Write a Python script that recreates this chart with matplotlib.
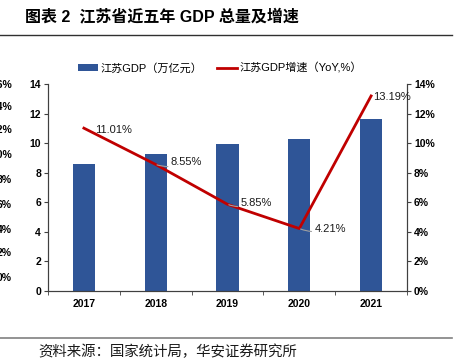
import matplotlib
matplotlib.use("Agg")
import matplotlib.pyplot as plt
from matplotlib.lines import Line2D
from matplotlib.patches import Patch
import numpy as np

plt.rcParams['font.family'] = ['Liberation Sans', 'Noto Sans CJK SC', 'DejaVu Sans']

years = ["2017", "2018", "2019", "2020", "2021"]
gdp = [8.59, 9.26, 9.96, 10.27, 11.64]
growth = [11.01, 8.55, 5.85, 4.21, 13.19]
growth_labels = ["11.01%", "8.55%", "5.85%", "4.21%", "13.19%"]
left_ticks = [0, 2, 4, 6, 8, 10, 12, 14]
right_ticks = [0, 2, 4, 6, 8, 10, 12, 14]
ghost_labels = ["16%", "14%", "12%", "10%", "8%", "6%", "4%", "2%", "0%"]

title = "图表 2  江苏省近五年 GDP 总量及增速"
source = "资料来源：国家统计局，华安证券研究所"
legend_bar = "江苏GDP（万亿元）"
legend_line = "江苏GDP增速（YoY,%）"

W, H = 456, 363
fig = plt.figure(figsize=(W / 100, H / 100), dpi=100)
PX = 0.72  # points per pixel

def fx(px):
    return px / W

def fy(py):
    return 1 - py / H

ax = fig.add_axes([fx(48), fy(290.7), fx(407) - fx(48), fy(84) - fy(290.7)])
x = np.arange(len(years))
bar_color = "#2F5597"
line_color = "#C00000"
ax.bar(x, gdp, width=0.31, color=bar_color, zorder=2)
ax.set_xlim(-0.5, len(years) - 0.5)
ax.set_ylim(0, 14)
ax.set_yticks(left_ticks)
ax.set_yticklabels([str(v) for v in left_ticks], fontsize=7.5, fontweight='bold')
ax.set_xticks(x)
ax.set_xticklabels(years, fontsize=7.5, fontweight='bold')
ax.tick_params(axis='x', length=0, pad=6)
ax.set_xticks(np.arange(-0.5, len(years), 1.0), minor=True)
ax.tick_params(axis='x', which='minor', length=3, direction='out', color='#404040')
ax.tick_params(axis='y', length=3, direction='out', color='#404040', pad=2)
ax.spines['top'].set_visible(False)
for s in ['left', 'right', 'bottom']:
    ax.spines[s].set_color('#404040')
    ax.spines[s].set_linewidth(0.8)

ax2 = ax.twinx()
ax2.plot(x, growth, color=line_color, linewidth=2.0, zorder=3)
ax2.set_ylim(0, 14)
ax2.set_yticks(right_ticks)
ax2.set_yticklabels([f"{v}%" for v in right_ticks], fontsize=7.5, fontweight='bold')
ax2.tick_params(axis='y', length=3, direction='out', color='#404040', pad=2)
ax2.spines['top'].set_visible(False)
for s in ['left', 'right', 'bottom']:
    ax2.spines[s].set_color('#404040')
    ax2.spines[s].set_linewidth(0.8)

# data labels (offsets in pixels)
offsets = [(11, -2, False), (15, 2, True), (13, 1, True), (15, 0, True), (1.5, -1, False)]
for i, (lab, (dx, dy, leader)) in enumerate(zip(growth_labels, offsets)):
    kw = dict(xy=(x[i], growth[i]), xytext=(dx * PX, dy * PX), textcoords='offset points',
              fontsize=8, ha='left', va='center', color='#1a1a1a')
    if leader:
        kw['arrowprops'] = dict(arrowstyle='-', color='#a0a0a0', lw=0.8,
                                connectionstyle='arc3,rad=-0.2', shrinkA=0, shrinkB=1)
    ax2.annotate(lab, **kw)

# legend
handles = [Patch(facecolor=bar_color, edgecolor='none'),
           Line2D([0], [0], color=line_color, linewidth=2.0)]
fig.legend(handles, [legend_bar, legend_line], loc='center',
           bbox_to_anchor=(fx(220), fy(68)), ncol=2, frameon=False,
           handlelength=1.8, handleheight=0.5, columnspacing=1.3,
           handletextpad=0.25,
           prop={'family': ['Liberation Sans', 'Noto Sans CJK SC'], 'size': 8, 'weight': 'normal'})

# title and rules
fig.text(fx(25), fy(16), title, fontsize=11.5, fontweight='bold', ha='left', va='center',
         family=['Liberation Sans', 'Noto Sans CJK SC'])
fig.add_artist(Line2D([0, fx(452)], [fy(35), fy(35)], color='#303030', linewidth=1.0))
fig.add_artist(Line2D([0, fx(452)], [fy(338), fy(338)], color='#808080', linewidth=1.2))
fig.text(fx(38), fy(352), source, fontsize=10.4, ha='left', va='center', color='#1a1a1a',
         family=['Noto Sans CJK SC'])

# clipped labels from neighbouring chart
ghost_y = [85, 106.7, 130, 155, 180, 205, 230, 253, 278]
for lab, gy in zip(ghost_labels, ghost_y):
    fig.text(fx(12), fy(gy), lab, fontsize=7.5, fontweight='bold', ha='right', va='center')

fig.savefig("out.png", dpi=100)
